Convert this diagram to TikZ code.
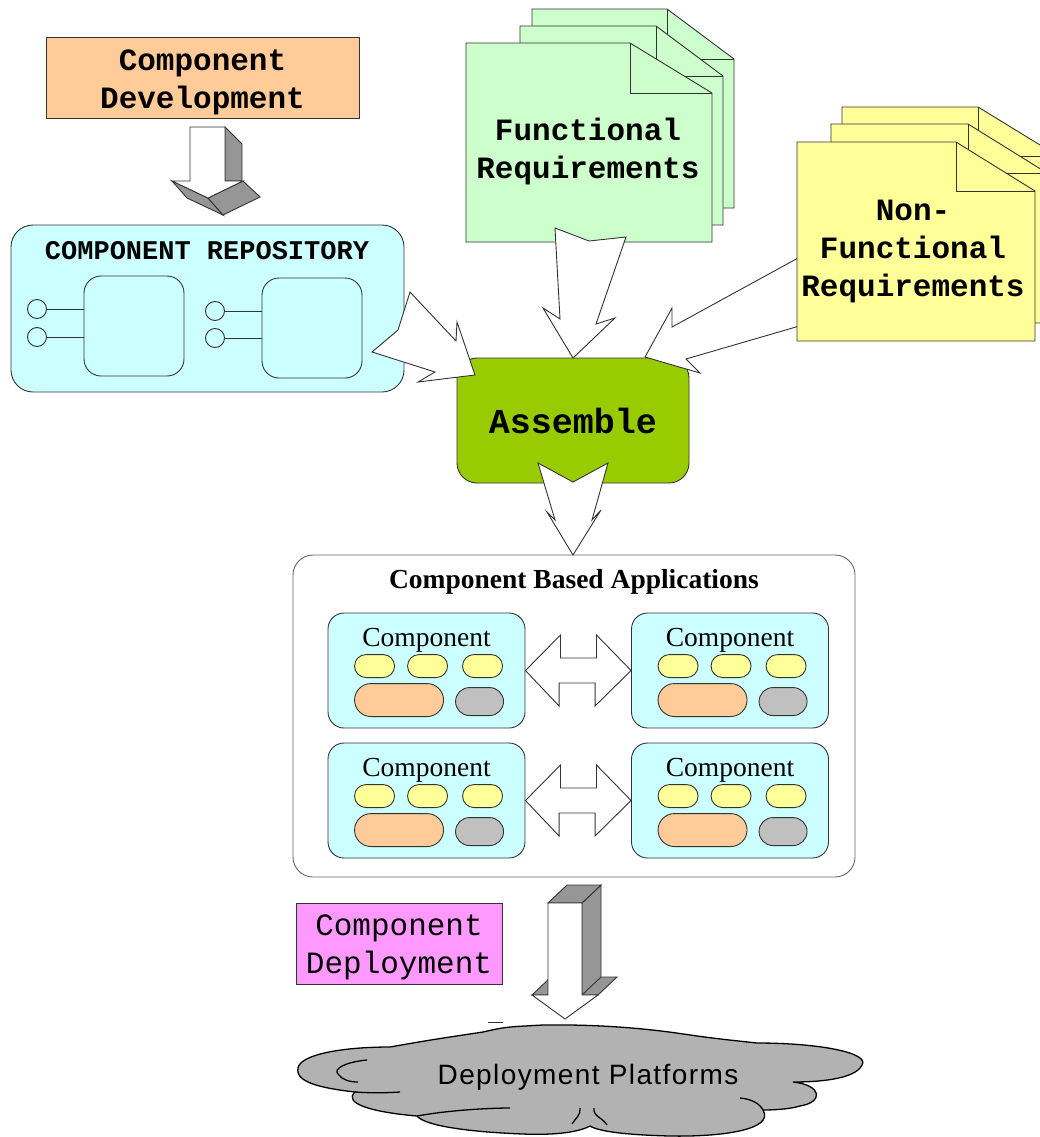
\documentclass[tikz,border=0pt]{standalone}
\usepackage{fontspec}
\setmainfont{Liberation Serif}
\setsansfont{Liberation Sans}
\setmonofont{Liberation Mono}
\newfontfamily\cloudfont[LetterSpace=5]{Liberation Sans}
\usetikzlibrary{positioning}
\definecolor{devpeach}{HTML}{FFCC99}
\definecolor{repocyan}{HTML}{CCFFFF}
\definecolor{reqgreen}{HTML}{CCFFCC}
\definecolor{reqyellow}{HTML}{FFFF99}
\definecolor{asmgreen}{HTML}{99CC00}
\definecolor{deppink}{HTML}{FF99FF}
\definecolor{facegrey}{HTML}{969696}
\definecolor{pillgrey}{HTML}{C0C0C0}
\definecolor{cloudgrey}{HTML}{B2B2B2}
\definecolor{edgeline}{HTML}{333333}

\begin{document}
\begin{tikzpicture}[x=1pt, y=1pt,
  ln/.style={draw=edgeline, line width=0.9pt},
  bigtt/.style={font=\ttfamily\bfseries\fontsize{31}{38}\selectfont, align=center},
  devbox/.style={ln, fill=devpeach, minimum width=313, minimum height=81, inner sep=0pt},
  repobox/.style={ln, fill=repocyan, rounded corners=22, minimum width=393, minimum height=167},
  repotitle/.style={font=\ttfamily\bfseries\fontsize{27}{32}\selectfont},
  repoitem/.style={ln, fill=repocyan, rounded corners=17, minimum size=100},
  port/.style={ln, circle, fill=repocyan, minimum size=19, inner sep=0pt},
  reqtxt/.style={bigtt},
  asmbox/.style={ln, fill=asmgreen, rounded corners=20, minimum width=232, minimum height=125,
                 font=\ttfamily\bfseries\fontsize{35}{42}\selectfont},
  cbabox/.style={draw=black!60, line width=0.9pt, fill=white, rounded corners=20,
                 minimum width=562, minimum height=322},
  cbatitle/.style={font=\bfseries\fontsize{27.5}{33}\selectfont},
  compbox/.style={ln, fill=repocyan, rounded corners=16, minimum width=197, minimum height=115},
  comptxt/.style={font=\fontsize{27.5}{33}\selectfont},
  pillyel/.style={ln, fill=reqyellow, rounded corners=11.5},
  pillorg/.style={ln, fill=devpeach, rounded corners=16.5},
  pillgry/.style={ln, fill=pillgrey, rounded corners=14},
  depbox/.style={ln, fill=deppink, minimum width=206, minimum height=81, inner sep=0pt},
  deptxt/.style={font=\ttfamily\fontsize{31}{38}\selectfont, align=center},
  fat/.style={ln, fill=white},
  face/.style={ln, fill=facegrey},
  cloudln/.style={draw=black, line width=1.3pt}
]
\path[fill=white, use as bounding box] (0,0) rectangle (1039,-1137);
% ----- component development -----
\node[devbox] (dev) at (202.5,-77.5) {};
\node[bigtt] (devt) at (202.5,-82) {Component\\Development};
\draw[face] (225,-127) -- (242,-144) -- (242,-181) -- (225,-181) -- cycle;
\draw[face] (172,-181) -- (208,-198) -- (223,-215) -- (187,-198) -- cycle;
\draw[face] (208,-198) -- (243,-181) -- (260,-197) -- (223,-215) -- cycle;
\draw[fat] (190,-127) -- (225,-127) -- (225,-181) -- (243,-181) -- (208,-198) -- (172,-181) -- (190,-181) -- cycle;
% ----- component repository -----
\node[repobox] (repo) at (207.5,-308.5) {};
\node[repotitle] (repot) at (207,-251) {COMPONENT REPOSITORY};
\node[repoitem] (ri1) at (134,-326) {};
\node[repoitem] (ri2) at (312,-328) {};
\foreach \p/\px/\py/\b in {pa/37/309/ri1, pb/37/337/ri1, pc/215/311/ri2, pd/215/338/ri2}{
  \node[port] (\p) at (\px,-\py) {};
  \draw[ln] (\p.east) -- (\p -| \b.west);
}
% ----- functional requirements -----
\foreach \pl/\pt/\pf/\pr/\pb in {532/9/667/734/208, 520/26/656/723/225, 466/43/630/712/242}{
  \draw[ln, fill=reqgreen] (\pl,-\pt) -- (\pf,-\pt) -- (\pr,-\pt-50) -- (\pr,-\pb) -- (\pl,-\pb) -- cycle;
  \draw[ln] (\pf,-\pt) -- (\pf,-\pt-50) -- (\pr,-\pt-50);
}
\node[reqtxt] (func) at (588,-151) {Functional\\Requirements};
% ----- assemble -----
\node[asmbox] (asm) at (573,-420.5) {Assemble};
\draw[fat] (555,-228) -- (589,-241) -- (626,-237) -- (596,-324) -- (615,-318) -- (573,-358)
  -- (543,-308) -- (560,-319) -- cycle;
\draw[fat] (410,-292) -- (456,-341) -- (457,-322) -- (475,-375) -- (418,-382) -- (435,-372)
  -- (372,-352) -- (398,-330) -- cycle;
\draw[fat] (820,-246) -- (672,-327) -- (672,-308) -- (645,-357) -- (700,-373) -- (686,-359)
  -- (820,-320) -- cycle;
% ----- non-functional requirements -----
\foreach \pl/\pt/\pf/\pr/\pb in {842/107/978/1058/306, 831/124/968/1047/323, 797/142/956/1035/341}{
  \draw[ln, fill=reqyellow] (\pl,-\pt) -- (\pf,-\pt) -- (\pr,-\pt-49) -- (\pr,-\pb) -- (\pl,-\pb) -- cycle;
  \draw[ln] (\pf,-\pt) -- (\pf,-\pt-49) -- (\pr,-\pt-49);
}
\node[reqtxt] (nfunc) at (913,-252) {Non-\\Functional\\Requirements};
% ----- component based applications -----
\node[cbabox] (cba) at (574,-716) {};
\draw[fat] (538,-463) -- (573,-482) -- (608,-463) -- (592,-520) -- (601,-510) -- (573,-555)
  -- (547,-512) -- (555,-520) -- cycle;
\node[cbatitle] (cbat) at (574,-582) {Component Based Applications};
\foreach \n/\cx/\cy in {ca/426.5/670.5, cb/730/670.5, cc/426.5/800.5, cd/730/800.5}{
  \node[compbox] (\n) at (\cx,-\cy) {};
  \node[comptxt] at ([yshift=-28]\n.north) {Component};
  \foreach \dx in {27,80,135}{\draw[pillyel] ([shift={(\dx,-42)}]\n.north west) rectangle +(40,-23);}
  \draw[pillorg] ([shift={(27,-71)}]\n.north west) rectangle +(89,-33);
  \draw[pillgry] ([shift={(128,-75)}]\n.north west) rectangle +(48,-28);
}
\foreach \u/\v in {ca/cb, cc/cd}{
  \draw[fat] (\u.east) -- ++(35,35.5) -- ++(0,-23) -- ++(36,0) -- ++(0,23) -- (\v.west)
    -- ++(-36,-35.5) -- ++(0,23) -- ++(-36,0) -- ++(0,-23) -- cycle;
}
% ----- component deployment -----
\node[depbox] (dep) at (399,-943.5) {};
\node[deptxt] (dept) at (399,-947.5) {Component\\Deployment};
\draw[face] (532,-995) -- (598,-995) -- (617,-977) -- (551,-977) -- cycle;
\draw[face] (582,-903) -- (601,-885) -- (601,-977) -- (582,-995) -- cycle;
\draw[face] (548,-903) -- (582,-903) -- (601,-885) -- (567,-885) -- cycle;
\draw[fat] (548,-903) -- (582,-903) -- (582,-995) -- (598,-995) -- (565,-1019) -- (532,-995)
  -- (548,-995) -- cycle;
% ----- deployment platforms cloud -----
\draw[cloudln, fill=cloudgrey] (390,-1047) .. controls (430,-1040) .. (483,-1032)
  .. controls (505,-1027) .. (543,-1025) .. controls (620,-1024) and (670,-1032) .. (697,-1036)
  .. controls (720,-1039) .. (757,-1043) .. controls (820,-1043) and (870,-1053) .. (862,-1065)
  .. controls (855,-1080) and (815,-1082) .. (793,-1082)
  .. controls (822,-1085) and (824,-1102) .. (800,-1106) .. controls (790,-1109) and (775,-1110) .. (763,-1110)
  .. controls (775,-1130) and (720,-1137) .. (670,-1136) .. controls (630,-1135) and (600,-1132) .. (590,-1126)
  .. controls (575,-1134) and (545,-1135) .. (523,-1134) .. controls (470,-1132) and (425,-1126) .. (417,-1116)
  .. controls (370,-1112) and (343,-1103) .. (355,-1092)
  .. controls (320,-1088) and (295,-1082) .. (298,-1068) .. controls (300,-1055) and (340,-1047) .. cycle;
\draw[cloudln] (355,-1092) .. controls (370,-1093) and (385,-1093) .. (400,-1092);
\draw[cloudln] (367,-1060) .. controls (345,-1062) and (333,-1069) .. (338,-1074)
  .. controls (342,-1080) and (350,-1082) .. (358,-1082);
\draw[cloudln] (417,-1116) .. controls (450,-1110) and (490,-1108) .. (510,-1108);
\draw[cloudln] (580,-1108) to[out=-80,in=60] (572,-1124);
\draw[cloudln] (594,-1108) to[out=-100,in=120] (607,-1125);
\draw[cloudln] (740,-1098) .. controls (752,-1099) and (760,-1104) .. (763,-1110);
\draw[ln] (488,-1022) -- (503,-1022);
\node[font=\cloudfont\fontsize{28}{33}\selectfont] (plat) at (588,-1077) {Deployment Platforms};
\end{tikzpicture}
\end{document}
